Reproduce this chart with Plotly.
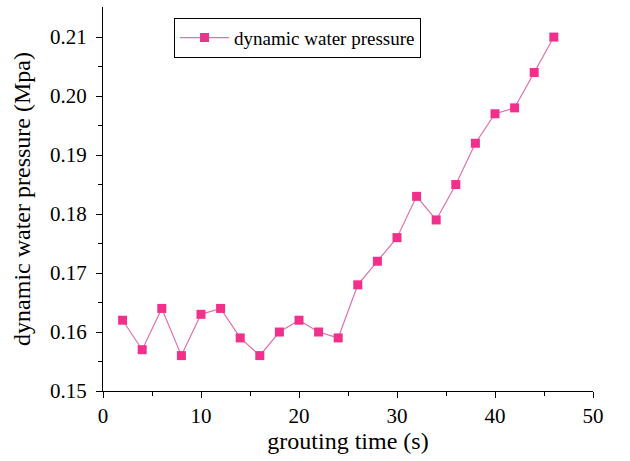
import plotly.graph_objects as go

time_s = [2, 4, 6, 8, 10, 12, 14, 16, 18, 20, 22, 24, 26, 28, 30, 32, 34, 36, 38, 40, 42, 44, 46]
pressure = [0.162, 0.157, 0.164, 0.156, 0.163, 0.164, 0.159, 0.156, 0.160, 0.162, 0.160, 0.159,
            0.168, 0.172, 0.176, 0.183, 0.179, 0.185, 0.192, 0.197, 0.198, 0.204, 0.210]
series_name = "dynamic water pressure"
x_title = "grouting time (s)"
y_title = "dynamic water pressure (Mpa)"
x_ticks = [0, 10, 20, 30, 40, 50]
y_ticks = [0.15, 0.16, 0.17, 0.18, 0.19, 0.20, 0.21]
y_ticklabels = ["0.15", "0.16", "0.17", "0.18", "0.19", "0.20", "0.21"]

FF = "Liberation Serif"

fig = go.Figure()
fig.add_trace(go.Scatter(
    x=time_s, y=pressure, mode="lines+markers", name=series_name,
    line=dict(color="#E270B0", width=1.2),
    marker=dict(symbol="square", size=9, color="#F0308A", line=dict(width=0)),
))

fig.update_layout(
    template="none",
    width=630, height=461,
    margin=dict(l=103, r=37, t=7, b=70),
    paper_bgcolor="white", plot_bgcolor="white",
    showlegend=True,
    legend=dict(
        x=0.145, y=0.972, xanchor="left", yanchor="top",
        bordercolor="black", borderwidth=1, bgcolor="white",
        font=dict(size=19, family=FF, color="black"),
        itemwidth=49, tracegroupgap=0,
    ),
    xaxis=dict(
        range=[0, 50], tickvals=x_ticks,
        showgrid=False, zeroline=False, showline=True, linecolor="black", linewidth=1,
        ticks="outside", ticklen=6, tickcolor="black",
        minor=dict(tickvals=[5, 15, 25, 35, 45], ticks="outside", ticklen=4, tickcolor="black"),
        tickfont=dict(size=21, family=FF, color="black"),
        title=dict(text=x_title, font=dict(size=24, family=FF, color="black"), standoff=4),
    ),
    yaxis=dict(
        range=[0.15, 0.2151], tickvals=y_ticks, ticktext=y_ticklabels,
        showgrid=False, zeroline=False, showline=True, linecolor="black", linewidth=1,
        ticks="outside", ticklen=6, tickcolor="black", ticklabelstandoff=5,
        minor=dict(tickvals=[0.155, 0.165, 0.175, 0.185, 0.195, 0.205], ticks="outside", ticklen=4, tickcolor="black"),
        tickfont=dict(size=21, family=FF, color="black"),
        title=dict(text=y_title, font=dict(size=24, family=FF, color="black"), standoff=12),
    ),
)

fig.write_html("out.html")
